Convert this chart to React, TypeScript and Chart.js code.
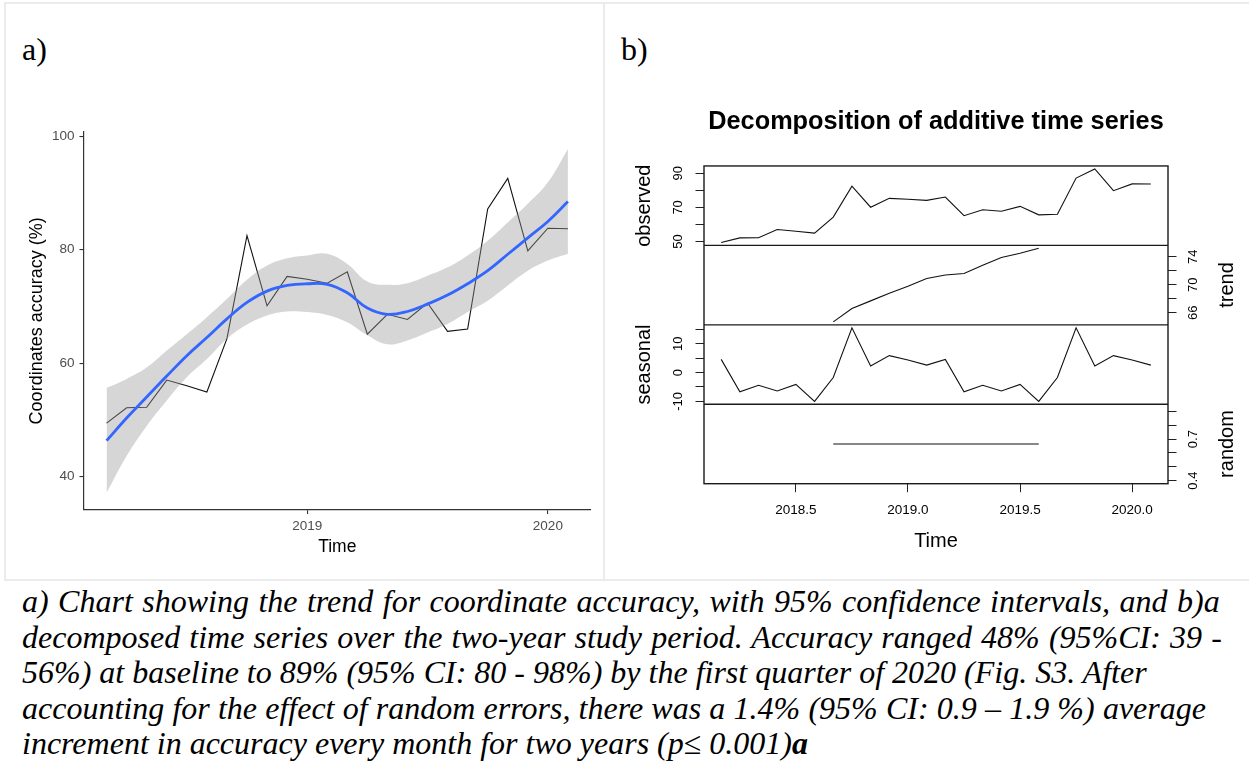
import React, { useEffect, useRef } from "react";
import { Chart, registerables } from "chart.js";
Chart.register(...registerables);

// ---------------- data ----------------
const months = [
  "2018-03", "2018-04", "2018-05", "2018-06", "2018-07", "2018-08", "2018-09", "2018-10",
  "2018-11", "2018-12", "2019-01", "2019-02", "2019-03", "2019-04", "2019-05", "2019-06",
  "2019-07", "2019-08", "2019-09", "2019-10", "2019-11", "2019-12", "2020-01", "2020-02",
];
const observed = [49.4, 52.1, 52.2, 57.0, 56.0, 54.9, 64.3, 82.5, 70.1, 75.3, 74.8, 74.1,
  76.1, 65.1, 68.6, 67.7, 70.6, 65.6, 66.0, 87.2, 92.6, 79.8, 83.8, 83.7];
const smoothFit = [46.3, 50.3, 54.0, 57.7, 61.3, 64.5, 67.8, 70.7, 72.7, 73.7, 74.0, 73.9,
  72.4, 69.7, 68.6, 69.1, 70.4, 72.0, 74.0, 76.3, 79.2, 82.1, 85.0, 88.5];
const ciUpper = [55.6, 57.2, 59.2, 62.2, 65.1, 68.1, 71.3, 74.7, 77.2, 78.5, 79.0, 79.3,
  77.5, 74.4, 73.8, 74.1, 75.4, 76.9, 79.0, 81.6, 84.8, 88.1, 91.9, 97.8];
const ciLower = [37.1, 43.6, 48.9, 53.4, 57.5, 60.7, 64.3, 66.8, 68.4, 69.1, 69.0, 68.5,
  67.2, 64.9, 63.3, 64.0, 65.4, 66.9, 69.0, 71.0, 73.7, 76.3, 78.1, 79.3];
const trend = [null, null, null, null, null, null, 64.7, 66.6, 67.7, 68.8, 69.8, 70.9,
  71.4, 71.6, 72.8, 73.9, 74.5, 75.2, null, null, null, null, null, null];
const seasonal = [4.6, -6.7, -4.4, -6.4, -4.1, -10.0, -1.7, 15.6, 2.3, 5.9, 4.4, 2.6,
  4.6, -6.7, -4.4, -6.4, -4.1, -10.0, -1.7, 15.6, 2.3, 5.9, 4.4, 2.6];
const randomPart = [null, null, null, null, null, null, 0.665, 0.665, 0.665, 0.665, 0.665, 0.665,
  0.665, 0.665, 0.665, 0.665, 0.665, 0.665, null, null, null, null, null, null];

const yearTicksA = [2019, 2020];
const yearTickLabelsA = ["2019", "2020"];
const yTicksA = [40, 60, 80, 100];
const yTickLabelsA = ["40", "60", "80", "100"];
const yearTicksB = [2018.5, 2019.0, 2019.5, 2020.0];
const yearTickLabelsB = ["2018.5", "2019.0", "2019.5", "2020.0"];
const obsTicks = [50, 60, 70, 80, 90];
const obsTickLabels = ["50", "", "70", "", "90"];
const trendTicks = [66, 68, 70, 72, 74];
const trendTickLabels = ["66", "", "70", "", "74"];
const seasTicks = [-10, -5, 0, 5, 10, 15];
const seasTickLabels = ["-10", "", "0", "", "10", ""];
const randTicks = [0.4, 0.5, 0.6, 0.7, 0.8, 0.9];
const randTickLabels = ["0.4", "", "", "0.7", "", ""];

const captionLines = [
  "a) Chart showing the trend for coordinate accuracy, with 95% confidence intervals, and b)a",
  "decomposed time series over the two-year study period. Accuracy ranged 48% (95%CI: 39 -",
  "56%) at baseline to 89% (95% CI: 80 - 98%) by the first quarter of 2020 (Fig. S3. After",
  "accounting for the effect of random errors, there was a 1.4% (95% CI: 0.9 \u2013 1.9 %) average",
  "increment in accuracy every month for two years (p\u2264 0.001)",
];
const captionWordSpacing = [1.45, 1.15, 0, 0.2, 0];

// ---------------- helpers ----------------
const toYear = (m: string) => {
  const [y, mo] = m.split("-").map(Number);
  return y + (mo - 1) / 12;
};
const xs = months.map(toYear);
const pts = (vals: (number | null)[]) => vals.map((v, i) => ({ x: xs[i], y: v }));

function expand(values: (number | null)[], mult: number): [number, number] {
  const v = values.filter((d) => d !== null) as number[];
  let lo = Math.min(...v);
  let hi = Math.max(...v);
  if (hi === lo) {
    lo = lo - 0.4 * Math.abs(lo);
    hi = hi + 0.4 * Math.abs(hi);
  }
  const r = hi - lo;
  return [lo - mult * r, hi + mult * r];
}

const SANS = "Liberation Sans";

// ---------------- Panel A (ggplot style) ----------------
function PanelA() {
  const ref = useRef<HTMLCanvasElement>(null);
  useEffect(() => {
    const [xMin, xMax] = expand(xs, 0.05);
    const [yMin, yMax] = expand([...ciLower, ...ciUpper, ...observed], 0.05);
    const chart = new Chart(ref.current!, {
      type: "line",
      data: {
        datasets: [
          { data: pts(smoothFit), borderColor: "#3366FF", borderWidth: 2.8, pointRadius: 0, tension: 0.4, fill: false },
          { data: pts(ciUpper), borderColor: "rgba(0,0,0,0)", borderWidth: 0, pointRadius: 0, tension: 0.4, fill: "+1", backgroundColor: "rgba(153,153,153,0.4)" },
          { data: pts(ciLower), borderColor: "rgba(0,0,0,0)", borderWidth: 0, pointRadius: 0, tension: 0.4, fill: false },
          { data: pts(observed), borderColor: "#111", borderWidth: 1.1, pointRadius: 0, tension: 0, fill: false },
        ],
      },
      options: {
        responsive: false,
        animation: false,
        events: [],
        layout: { padding: { top: 131.7, right: 13, left: 0, bottom: 0 } },
        plugins: { legend: { display: false }, tooltip: { enabled: false } },
        scales: {
          x: {
            type: "linear",
            min: xMin,
            max: xMax,
            afterBuildTicks: (s: any) => { s.ticks = yearTicksA.map((v) => ({ value: v })); },
            afterFit: (s: any) => { s.height = 68; },
            ticks: {
              autoSkip: false, maxRotation: 0, minRotation: 0, padding: 4,
              font: { family: SANS, size: 13.5 }, color: "#4D4D4D",
              callback: (_v: any, i: number) => yearTickLabelsA[i],
            },
            grid: { display: true, drawOnChartArea: false, drawTicks: true, tickLength: 4, color: "#333", lineWidth: 1.1 },
            border: { display: true, color: "#333", width: 1.2 },
            title: { display: true, text: "Time", font: { family: SANS, size: 17.5 }, color: "#000", padding: { top: 0, bottom: 20.5 } },
          },
          y: {
            type: "linear",
            min: yMin,
            max: yMax,
            afterBuildTicks: (s: any) => { s.ticks = yTicksA.map((v) => ({ value: v })); },
            afterFit: (s: any) => { s.width = 83.5; },
            ticks: {
              autoSkip: false, padding: 5, font: { family: SANS, size: 13.5 }, color: "#4D4D4D",
              callback: (_v: any, i: number) => yTickLabelsA[i],
            },
            grid: { display: true, drawOnChartArea: false, drawTicks: true, tickLength: 4, color: "#333", lineWidth: 1.1 },
            border: { display: true, color: "#333", width: 1.2 },
            title: { display: true, text: "Coordinates accuracy (%)", font: { family: SANS, size: 18 }, color: "#000", padding: { top: 26, bottom: 0 } },
          },
        },
      } as any,
    });
    return () => chart.destroy();
  }, []);
  return <canvas ref={ref} width={604} height={578} style={{ position: "absolute", left: 0, top: 0, width: 604, height: 578 }} />;
}

// ---------------- Panel B (R decompose style) ----------------
const framePlugin = {
  id: "frame",
  afterDatasetsDraw(chart: any) {
    const { ctx, chartArea: a } = chart;
    ctx.save();
    ctx.strokeStyle = "#1a1a1a";
    ctx.lineWidth = 1.4;
    ctx.strokeRect(a.left, a.top, a.right - a.left, a.bottom - a.top);
    for (const id of ["yObs", "yTrend", "ySeas"]) {
      const s = chart.scales[id];
      ctx.beginPath();
      ctx.moveTo(a.left, s.bottom);
      ctx.lineTo(a.right, s.bottom);
      ctx.stroke();
    }
    ctx.restore();
  },
};

const LEFT_W = 98;
const RIGHT_W = 81;

function yScale(pos: "left" | "right", weight: number, range: [number, number], ticks: number[], labels: string[], pad: number, title?: string) {
  return {
    type: "linear",
    position: pos,
    stack: pos === "left" ? "L" : "R",
    stackWeight: 1,
    weight,
    min: range[0],
    max: range[1],
    afterBuildTicks: (s: any) => { s.ticks = ticks.map((v) => ({ value: v })); },
    afterFit: (s: any) => { s.width = pos === "left" ? LEFT_W : RIGHT_W; },
    ticks: {
      autoSkip: false, minRotation: 90, maxRotation: 90, crossAlign: "center", padding: pad,
      font: { family: SANS, size: 13 }, color: "#000",
      callback: (_v: any, i: number) => labels[i],
    },
    grid: { display: true, drawOnChartArea: false, drawTicks: true, tickLength: 8.5, color: "#222", lineWidth: 1 },
    border: { display: false },
    title: title
      ? { display: true, text: title, font: { family: SANS, size: 20 }, color: "#000", padding: { top: 26, bottom: 0 } }
      : { display: false },
  };
}

function dummyScale(pos: "left" | "right", weight: number) {
  return {
    type: "linear",
    position: pos,
    stack: pos === "left" ? "L" : "R",
    stackWeight: 1,
    weight,
    min: 0,
    max: 1,
    afterFit: (s: any) => { s.width = pos === "left" ? LEFT_W : RIGHT_W; },
    ticks: { display: false },
    grid: { display: false },
    border: { display: false },
  };
}

function PanelB() {
  const ref = useRef<HTMLCanvasElement>(null);
  useEffect(() => {
    const [xMin, xMax] = expand(xs, 0.04);
    const line = (vals: (number | null)[], axis: string) => ({
      data: pts(vals), yAxisID: axis, borderColor: "#111", borderWidth: 1.1, pointRadius: 0, tension: 0, fill: false, spanGaps: false,
    });
    const chart = new Chart(ref.current!, {
      type: "line",
      data: {
        datasets: [
          line(observed, "yObs"),
          line(trend, "yTrend"),
          line(seasonal, "ySeas"),
          line(randomPart, "yRand"),
        ],
      },
      options: {
        responsive: false,
        animation: false,
        events: [],
        layout: { padding: 0 },
        plugins: {
          legend: { display: false },
          tooltip: { enabled: false },
          title: {
            display: true,
            fullSize: false,
            text: "Decomposition of additive time series",
            font: { family: SANS, size: 25.3, weight: "bold" },
            color: "#000",
            padding: { top: 106.8, bottom: 28.8 },
          },
        },
        scales: {
          x: {
            type: "linear",
            position: "bottom",
            min: xMin,
            max: xMax,
            afterBuildTicks: (s: any) => { s.ticks = yearTicksB.map((v) => ({ value: v })); },
            afterFit: (s: any) => { s.height = 94.3; },
            ticks: {
              autoSkip: false, maxRotation: 0, minRotation: 0, padding: 9.8,
              font: { family: SANS, size: 13.5 }, color: "#000",
              callback: (_v: any, i: number) => yearTickLabelsB[i],
            },
            grid: { display: true, drawOnChartArea: false, drawTicks: true, tickLength: 8.5, color: "#222", lineWidth: 1 },
            border: { display: false },
            title: { display: true, text: "Time", font: { family: SANS, size: 20 }, color: "#000", padding: { top: 0, bottom: 25 } },
          },
          yObs: yScale("left", 4, expand(observed, 0.04), obsTicks, obsTickLabels, 10, "observed"),
          yDumL1: dummyScale("left", 3),
          ySeas: yScale("left", 2, expand(seasonal, 0.04), seasTicks, seasTickLabels, 7.8, "seasonal"),
          yDumL2: dummyScale("left", 1),
          yDumR1: dummyScale("right", 1),
          yTrend: yScale("right", 2, expand(trend, 0.04), trendTicks, trendTickLabels, 9.8),
          yDumR2: dummyScale("right", 3),
          yRand: yScale("right", 4, expand(randomPart, 0.04), randTicks, randTickLabels, 7.95),
        },
      } as any,
      plugins: [framePlugin],
    });
    return () => chart.destroy();
  }, []);
  return <canvas ref={ref} width={643} height={578} style={{ position: "absolute", left: 606, top: 0, width: 643, height: 578 }} />;
}

// ---------------- page ----------------
const borderColor = "#ebebeb";

export default function App() {
  const rot = (text: string, cx: number, cy: number) => (
    <div
      style={{
        position: "absolute", left: cx, top: cy, transform: "translate(-50%,-50%) rotate(-90deg)",
        font: `20px "${SANS}"`, lineHeight: "24px", whiteSpace: "nowrap", color: "#000",
      }}
    >
      {text}
    </div>
  );
  return (
    <div style={{ position: "absolute", left: 0, top: 0, width: 1249, height: 764, background: "#fff", overflow: "hidden" }}>
      <div style={{ position: "absolute", left: 4, top: 2, width: 1245, height: 2, background: borderColor }} />
      <div style={{ position: "absolute", left: 4, top: 2, width: 2, height: 579, background: borderColor }} />
      <div style={{ position: "absolute", left: 603, top: 2, width: 2, height: 579, background: borderColor }} />
      <div style={{ position: "absolute", left: 4, top: 579, width: 1245, height: 2, background: borderColor }} />
      <div style={{ position: "absolute", left: 22, top: 32.6, font: '32px "Liberation Serif"', lineHeight: "32px", color: "#000" }}>a)</div>
      <div style={{ position: "absolute", left: 621, top: 32.6, font: '32px "Liberation Serif"', lineHeight: "32px", color: "#000" }}>b)</div>
      <PanelA />
      <PanelB />
      {rot("trend", 1225.5, 285.3)}
      {rot("random", 1226, 444.2)}
      <div style={{ position: "absolute", left: 22, top: 584, font: 'italic 32px "Liberation Serif"', lineHeight: "35.5px", color: "#000", whiteSpace: "nowrap" }}>
        {captionLines.map((t, i) => (
          <div key={i} style={{ wordSpacing: `${captionWordSpacing[i]}px` }}>
            {t}
            {i === captionLines.length - 1 ? <span style={{ fontWeight: "bold" }}>a</span> : null}
          </div>
        ))}
      </div>
    </div>
  );
}
